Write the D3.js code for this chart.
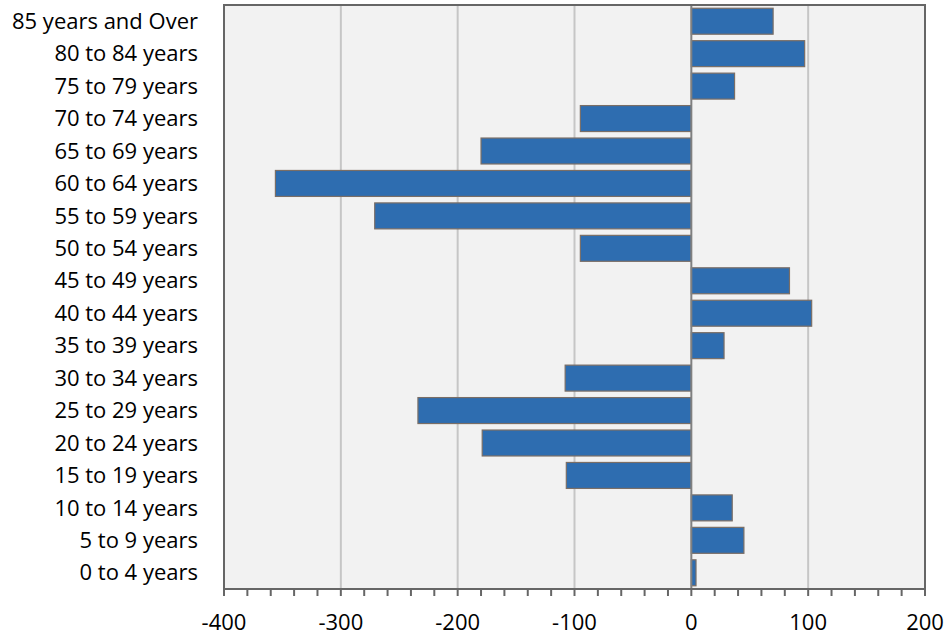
<!DOCTYPE html>
<html><head><meta charset="utf-8">
<script src="https://cdn.jsdelivr.net/npm/d3@7"></script>
<style>body{margin:0;background:#fff;} svg{display:block;}</style>
</head><body>
<svg id="c" width="945" height="637"></svg>
<script>
const categories = ["85 years and Over","80 to 84 years","75 to 79 years","70 to 74 years","65 to 69 years","60 to 64 years","55 to 59 years","50 to 54 years","45 to 49 years","40 to 44 years","35 to 39 years","30 to 34 years","25 to 29 years","20 to 24 years","15 to 19 years","10 to 14 years","5 to 9 years","0 to 4 years"];
const values = [70, 97, 37, -95, -180, -356, -271, -95, 84, 103, 28, -108, -234, -179, -107, 35, 45, 4];
const xTicks = [-400,-300,-200,-100,0,100,200];

const svg = d3.select("#c");
const L=224, R=925, T=5, B=589;
const font = "'Open Sans', 'Noto Sans', sans-serif";
const x = d3.scaleLinear().domain([-400,200]).range([L,R]);
const y = d3.scaleBand().domain(categories).range([T,B]).paddingInner(0.2).paddingOuter(0.1);

svg.append("rect").attr("x",L).attr("y",T).attr("width",R-L).attr("height",B-T).attr("fill","#f2f2f2");

// gridlines
svg.append("g").selectAll("line").data(xTicks.filter(d=>d!==0 && d!==-400 && d!==200)).join("line")
  .attr("x1",d=>x(d)).attr("x2",d=>x(d)).attr("y1",T).attr("y2",B)
  .attr("stroke","#c6c6c6").attr("stroke-width",2);

// bars
svg.append("g").selectAll("rect").data(values).join("rect")
  .attr("x",d=>x(Math.min(0,d))).attr("width",d=>Math.abs(x(d)-x(0)))
  .attr("y",(d,i)=>y(categories[i])).attr("height",y.bandwidth())
  .attr("fill","#2e6db0").attr("stroke","#7a6e66").attr("stroke-width",1.2);

// zero line
svg.append("line").attr("x1",x(0)).attr("x2",x(0)).attr("y1",T).attr("y2",B)
  .attr("stroke","#808080").attr("stroke-width",2);

// border
svg.append("rect").attr("x",L).attr("y",T).attr("width",R-L).attr("height",B-T)
  .attr("fill","none").attr("stroke","#666").attr("stroke-width",2);

// x axis
const minor = d3.range(-400,201,20);
svg.append("g").selectAll("line").data(minor).join("line")
  .attr("x1",d=>x(d)).attr("x2",d=>x(d)).attr("y1",B).attr("y2",B+7)
  .attr("stroke","#666").attr("stroke-width",2);
svg.append("g").selectAll("text").data(xTicks).join("text")
  .attr("x",d=>x(d)).attr("y",B+41).attr("text-anchor","middle")
  .attr("font-family",font).attr("font-size",22).attr("fill","#000")
  .text(d=>d);

// y labels
svg.append("g").selectAll("text").data(categories).join("text")
  .attr("x",198).attr("y",d=>y(d)+y.bandwidth()/2).attr("dy","0.35em")
  .attr("text-anchor","end").attr("font-family",font).attr("font-size",22).attr("fill","#000")
  .text(d=>d);
</script>
</body></html>
